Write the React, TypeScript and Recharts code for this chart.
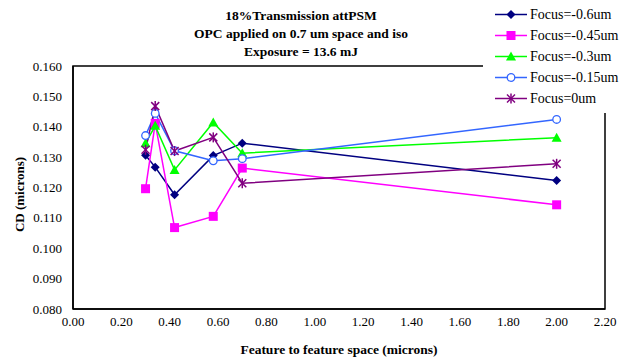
import React from 'react';
import { LineChart, Line, XAxis, YAxis, ReferenceArea, Label } from 'recharts';

// feature to feature space (microns)
const spaces = [0.30, 0.34, 0.42, 0.58, 0.70, 2.00];

// CD (microns) per focus setting
const focusM060 = [0.1306, 0.1267, 0.1176, 0.1305, 0.1346, 0.1223];
const focusM045 = [0.1196, 0.1411, 0.1068, 0.1105, 0.1264, 0.1143];
const focusM030 = [0.1346, 0.1403, 0.1258, 0.1414, 0.1313, 0.1364];
const focusM015 = [0.1371, 0.1444, 0.1321, 0.1288, 0.1295, 0.1424];
const focus000 = [0.1324, 0.1468, 0.1320, 0.1365, 0.1214, 0.1278];

const xTicks = [0, 0.2, 0.4, 0.6, 0.8, 1.0, 1.2, 1.4, 1.6, 1.8, 2.0, 2.2];
const yTicks = [0.08, 0.09, 0.1, 0.11, 0.12, 0.13, 0.14, 0.15, 0.16];

const FONT = 'Liberation Serif, Times New Roman, serif';

const toPoints = (vals: number[]) => spaces.map((x, i) => ({ x, y: vals[i] }));

type Shape = 'diamond' | 'square' | 'triangle' | 'circle' | 'star';

const series: { name: string; color: string; shape: Shape; values: number[] }[] = [
    { name: 'Focus=-0.6um', color: '#000080', shape: 'diamond', values: focusM060 },
    { name: 'Focus=-0.45um', color: '#FF00FF', shape: 'square', values: focusM045 },
    { name: 'Focus=-0.3um', color: '#00FF00', shape: 'triangle', values: focusM030 },
    { name: 'Focus=-0.15um', color: '#3366FF', shape: 'circle', values: focusM015 },
    { name: 'Focus=0um', color: '#800080', shape: 'star', values: focus000 },
];

const Marker = ({ cx, cy, shape, color }: { cx: number; cy: number; shape: Shape; color: string }) => {
    if (cx == null || cy == null) return null;
    switch (shape) {
        case 'diamond':
            return <polygon points={`${cx},${cy - 4.5} ${cx + 4.5},${cy} ${cx},${cy + 4.5} ${cx - 4.5},${cy}`} fill={color} />;
        case 'square':
            return <rect x={cx - 4.5} y={cy - 4.5} width={9} height={9} fill={color} />;
        case 'triangle':
            return <polygon points={`${cx},${cy - 5} ${cx + 5},${cy + 4} ${cx - 5},${cy + 4}`} fill={color} />;
        case 'circle':
            return <circle cx={cx} cy={cy} r={3.8} fill="white" stroke={color} strokeWidth={1.3} />;
        case 'star':
            return (
                <g stroke={color} strokeWidth={1.5}>
                    <line x1={cx - 4} y1={cy - 4} x2={cx + 4} y2={cy + 4} />
                    <line x1={cx - 4} y1={cy + 4} x2={cx + 4} y2={cy - 4} />
                    <line x1={cx} y1={cy - 5} x2={cx} y2={cy + 5} />
                </g>
            );
    }
    return null;
};

const LegendBox = () => (
    <svg width={147} height={113} style={{ position: 'absolute', left: 483, top: 0, background: 'white' }}>
        {series.map((s, i) => {
            const y = 14.5 + i * 21;
            return (
                <g key={s.name}>
                    <line x1={12} y1={y} x2={44} y2={y} stroke={s.color} strokeWidth={1.5} />
                    <Marker cx={28} cy={y} shape={s.shape} color={s.color} />
                    <text x={47} y={y + 4.5} fontFamily={FONT} fontSize={14} fill="#000">{s.name}</text>
                </g>
            );
        })}
    </svg>
);

const Title = () => (
    <svg width={630} height={62} style={{ position: 'absolute', left: 0, top: 0 }}>
        <g fontFamily={FONT} fontWeight="bold" fontSize={13.5} fill="#000" textAnchor="middle">
            <text x={301} y={20}>18%Transmission attPSM</text>
            <text x={301} y={38}>OPC applied on 0.7 um space and iso</text>
            <text x={301} y={56}>Exposure = 13.6 mJ</text>
        </g>
    </svg>
);

export default function App() {
    return (
        <div style={{ position: 'absolute', left: 0, top: 0, width: 630, height: 360, background: 'white' }}>
            <LineChart width={630} height={360} margin={{ top: 66, right: 25, bottom: 0, left: 0 }}>
                <XAxis
                    type="number"
                    dataKey="x"
                    domain={[0, 2.2]}
                    ticks={xTicks}
                    tickFormatter={(v: number) => v.toFixed(2)}
                    axisLine={{ stroke: '#000', strokeWidth: 1.5 }}
                    tickLine={false}
                    tick={{ fill: '#000', fontFamily: FONT, fontSize: 13 }}
                    height={51}
                    interval={0}
                    allowDuplicatedCategory={false}
                >
                    <Label value="Feature to feature space (microns)" position="insideBottom" offset={6}
                        style={{ fontFamily: FONT, fontWeight: 'bold', fontSize: 13.5, fill: '#000' }} />
                </XAxis>
                <YAxis
                    type="number"
                    domain={[0.08, 0.16]}
                    ticks={yTicks}
                    tickFormatter={(v: number) => v.toFixed(3)}
                    axisLine={{ stroke: '#000', strokeWidth: 1.5 }}
                    tickLine={false}
                    tickMargin={5}
                    tick={{ fill: '#000', fontFamily: FONT, fontSize: 13 }}
                    width={73}
                    interval={0}
                >
                    <Label
                        content={(props: any) => {
                            const vb = props.viewBox || {};
                            const cy = (vb.y || 0) + (vb.height || 0) / 2 + 7;
                            return (
                                <text x={24} y={cy} transform={`rotate(-90 24 ${cy})`} textAnchor="middle"
                                    fontFamily={FONT} fontWeight="bold" fontSize={13} fill="#000">
                                    CD (microns)
                                </text>
                            );
                        }}
                    />
                </YAxis>
                <ReferenceArea x1={0} x2={2.2} y1={0.08} y2={0.16} fill="none" stroke="#000" strokeWidth={1.5} ifOverflow="visible" />
                {series.map((s) => (
                    <Line
                        key={s.name}
                        name={s.name}
                        data={toPoints(s.values)}
                        dataKey="y"
                        type="linear"
                        stroke={s.color}
                        strokeWidth={1.5}
                        isAnimationActive={false}
                        dot={(p: any) => <Marker key={`${s.name}-${p.index}`} cx={p.cx} cy={p.cy} shape={s.shape} color={s.color} />}
                        activeDot={false}
                    />
                ))}
            </LineChart>
            <Title />
            <LegendBox />
        </div>
    );
}
